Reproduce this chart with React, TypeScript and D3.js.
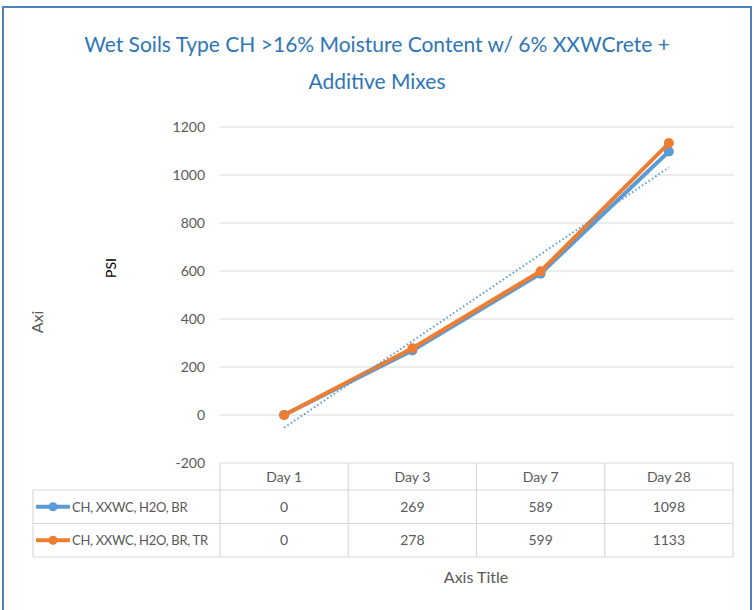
import React from "react";
import { scaleBand, scaleLinear, line, mean, sum } from "d3";

// data
const categories = ["Day 1", "Day 3", "Day 7", "Day 28"];
const seriesNames = ["CH, XXWC, H2O, BR", "CH, XXWC, H2O, BR, TR"];
const seriesBR = [0, 269, 589, 1098];
const seriesTR = [0, 278, 599, 1133];
const yTicks = [-200, 0, 200, 400, 600, 800, 1000, 1200];

const colors = ["#5B9BD5", "#ED7D31"];
const font = "Lato, 'Open Sans', sans-serif";

export default function App() {
  const W = 754;
  const H = 610;
  const plotLeft = 220;
  const plotRight = 733;
  const plotTop = 127;
  const plotBottom = 463;
  const rowH = 33.5;
  const headerH = 27;
  const tableLeft = 33;

  const x = scaleBand().domain(categories).range([plotLeft, plotRight]);
  const y = scaleLinear().domain([-200, 1200]).range([plotBottom, plotTop]);
  const cx = (c: string) => (x(c) ?? 0) + x.bandwidth() / 2;

  const series = [seriesBR, seriesTR];
  const path = line<number>()
    .x((_, i) => cx(categories[i]))
    .y((d) => y(d));

  // linear trendline for the first series
  const xs = categories.map((_, i) => i + 1);
  const mx = mean(xs) ?? 0;
  const my = mean(seriesBR) ?? 0;
  const slope =
    sum(xs.map((v, i) => (v - mx) * (seriesBR[i] - my))) /
    sum(xs.map((v) => (v - mx) ** 2));
  const trend = xs.map((v) => my + slope * (v - mx));

  const rows = [seriesBR, seriesTR];

  return (
    <svg width={W} height={H} style={{ position: "absolute", left: 0, top: 0 }}>
      <rect x={0} y={0} width={W} height={H} fill="#fff" />
      <rect x={3} y={7} width={748} height={H + 10} fill="none" stroke="#4F81BD" strokeWidth={2} />

      {/* title */}
      <text x={377} y={52} textAnchor="middle" fontFamily={font} fontSize={21} fill="#2E75B6">
        Wet Soils Type CH &gt;16% Moisture Content w/ 6% XXWCrete +
      </text>
      <text x={377} y={89} textAnchor="middle" fontFamily={font} fontSize={21} fill="#2E75B6">
        Additive Mixes
      </text>

      {/* grid + y ticks */}
      {yTicks.map((t) => (
        <g key={t}>
          {t !== -200 && (
            <line x1={plotLeft} x2={plotRight} y1={y(t)} y2={y(t)} stroke="#D9D9D9" strokeWidth={1} />
          )}
          <text x={205} y={y(t) + 5} textAnchor="end" fontFamily={font} fontSize={14} fill="#595959">
            {t}
          </text>
        </g>
      ))}

      {/* axis titles */}
      <text transform="translate(116,268) rotate(-90)" textAnchor="middle" fontFamily={font} fontSize={14} fill="#000">
        PSI
      </text>
      <text transform="translate(43,322) rotate(-90)" textAnchor="middle" fontFamily={font} fontSize={16} fill="#595959">
        Axi
      </text>
      <text x={476} y={583} textAnchor="middle" fontFamily={font} fontSize={16} fill="#595959">
        Axis Title
      </text>

      {/* data table */}
      <g stroke="#D9D9D9" strokeWidth={1.2} fill="none">
        <line x1={plotLeft} x2={plotRight} y1={plotBottom} y2={plotBottom} />
        <line x1={tableLeft} x2={plotRight} y1={plotBottom + headerH} y2={plotBottom + headerH} />
        <line x1={tableLeft} x2={plotRight} y1={plotBottom + headerH + rowH} y2={plotBottom + headerH + rowH} />
        <line x1={tableLeft} x2={plotRight} y1={plotBottom + headerH + 2 * rowH} y2={plotBottom + headerH + 2 * rowH} />
        <line x1={tableLeft} x2={tableLeft} y1={plotBottom + headerH} y2={plotBottom + headerH + 2 * rowH} />
        {categories.map((c) => (
          <line key={c} x1={x(c)} x2={x(c)} y1={plotBottom} y2={plotBottom + headerH + 2 * rowH} />
        ))}
        <line x1={plotRight} x2={plotRight} y1={plotBottom} y2={plotBottom + headerH + 2 * rowH} />
      </g>
      {categories.map((c) => (
        <text key={c} x={cx(c)} y={plotBottom + headerH / 2 + 5} textAnchor="middle" fontFamily={font} fontSize={14} fill="#595959">
          {c}
        </text>
      ))}
      {rows.map((r, ri) => {
        const rowMid = plotBottom + headerH + rowH * ri + rowH / 2;
        return (
          <g key={ri}>
            <line x1={36} x2={70} y1={rowMid} y2={rowMid} stroke={colors[ri]} strokeWidth={4} />
            <circle cx={53} cy={rowMid} r={4.5} fill={colors[ri]} />
            <text x={72} y={rowMid + 5} fontFamily={font} fontSize={13} letterSpacing={-0.3} fill="#595959">
              {seriesNames[ri]}
            </text>
            {r.map((v, i) => (
              <text key={i} x={cx(categories[i])} y={rowMid + 5} textAnchor="middle" fontFamily={font} fontSize={14} fill="#595959">
                {v}
              </text>
            ))}
          </g>
        );
      })}

      {/* series */}
      {series.map((s, si) => (
        <g key={si}>
          <path d={path(s) ?? ""} fill="none" stroke={colors[si]} strokeWidth={4} strokeLinejoin="round" />
          {s.map((v, i) => (
            <circle key={i} cx={cx(categories[i])} cy={y(v)} r={5} fill={colors[si]} />
          ))}
        </g>
      ))}

      {/* trendline */}
      <path d={path(trend) ?? ""} fill="none" stroke={colors[0]} strokeWidth={2} strokeDasharray="1.5,2.5" />
    </svg>
  );
}
